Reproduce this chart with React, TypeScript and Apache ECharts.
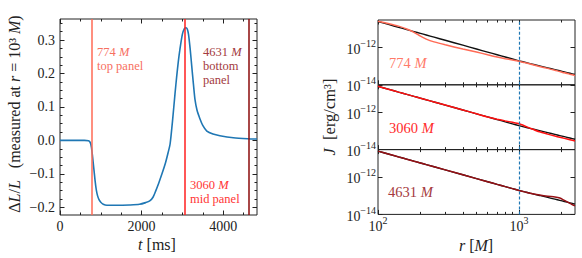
import React, { useEffect, useRef } from 'react';
import * as echarts from 'echarts';

// ---------- Left panel: luminosity change vs time ----------
const T_MS = [0, 300, 600, 700, 740, 770, 800, 830, 860, 890, 920, 960, 1000, 1060, 1150, 1400, 1700, 1950, 2100, 2200, 2280, 2350, 2420, 2500, 2580, 2650, 2700, 2760, 2820, 2860, 2900, 2940, 3000, 3050, 3090, 3120, 3150, 3190, 3230, 3270, 3310, 3360, 3430, 3500, 3600, 3750, 3920, 4250, 4600, 4830];
const DL_L = [0, 0, 0, -0.001, -0.006, -0.02, -0.05, -0.085, -0.12, -0.148, -0.165, -0.178, -0.185, -0.191, -0.194, -0.194, -0.193, -0.191, -0.186, -0.181, -0.17, -0.15, -0.128, -0.1, -0.07, -0.037, -0.01, 0.06, 0.14, 0.19, 0.235, 0.272, 0.317, 0.334, 0.337, 0.333, 0.318, 0.275, 0.222, 0.17, 0.122, 0.09, 0.065, 0.045, 0.028, 0.019, 0.014, 0.008, 0.005, 0.004];
const EVENT_T = [774, 3060, 4631];
const EVENT_COLORS = ['#ff6a55', '#ff1f1f', '#8b0a0a'];

const T_RANGE = [0, 4830];
const DL_RANGE = [-0.223, 0.363];
const T_TICKS = [0, 2000, 4000];
const T_MINOR = [500, 1000, 1500, 2500, 3000, 3500, 4500];
const DL_TICKS = [-0.2, -0.1, 0, 0.1, 0.2, 0.3];
const DL_MINOR = [-0.175, -0.15, -0.125, -0.075, -0.05, -0.025, 0.025, 0.05, 0.075, 0.125, 0.15, 0.175, 0.225, 0.25, 0.275, 0.325, 0.35];

// ---------- Right panels: J(r) ----------
const R_M = [100, 120, 140, 160, 180, 200, 220, 250, 300, 400, 500, 600, 700, 800, 900, 1000, 1100, 1200, 1400, 1600, 1800, 1950, 2100, 2300, 2500];
const J_INITIAL = [2.40e-11, 1.64e-11, 1.18e-11, 8.95e-12, 6.98e-12, 5.60e-12, 4.58e-12, 3.50e-12, 2.39e-12, 1.31e-12, 8.17e-13, 5.57e-13, 4.03e-13, 3.05e-13, 2.38e-13, 1.91e-13, 1.60e-13, 1.36e-13, 1.03e-13, 8.07e-14, 6.50e-14, 5.61e-14, 4.90e-14, 4.15e-14, 3.56e-14];
const J_774 = [2.51e-11, 1.84e-11, 1.36e-11, 9.59e-12, 6.37e-12, 3.96e-12, 2.76e-12, 1.97e-12, 1.37e-12, 8.24e-13, 5.65e-13, 4.04e-13, 3.05e-13, 2.48e-13, 2.12e-13, 1.82e-13, 1.53e-13, 1.30e-13, 9.59e-14, 7.53e-14, 5.93e-14, 5.12e-14, 4.37e-14, 3.70e-14, 3.18e-14];
const J_3060 = [2.40e-11, 1.64e-11, 1.18e-11, 8.95e-12, 6.98e-12, 5.60e-12, 4.58e-12, 3.50e-12, 2.39e-12, 1.31e-12, 8.17e-13, 5.57e-13, 4.22e-13, 3.42e-13, 2.86e-13, 2.40e-13, 1.84e-13, 1.40e-13, 8.95e-14, 6.71e-14, 5.28e-14, 4.56e-14, 3.98e-14, 3.37e-14, 2.90e-14];
const J_4631 = [2.40e-11, 1.64e-11, 1.18e-11, 8.95e-12, 6.98e-12, 5.60e-12, 4.58e-12, 3.50e-12, 2.39e-12, 1.31e-12, 8.17e-13, 5.57e-13, 4.03e-13, 3.05e-13, 2.38e-13, 1.91e-13, 1.60e-13, 1.36e-13, 1.08e-13, 9.27e-14, 8.57e-14, 7.57e-14, 5.62e-14, 3.87e-14, 2.83e-14];
const PANEL_SERIES = [J_774, J_3060, J_4631];
const PANEL_NAMES = ['774', '3060', '4631'];
const PANEL_COLORS = ['#ff6a55', '#ff1010', '#961015'];
const PANEL_TEXT_COLORS = ['#ff7a68', '#ff2a2a', '#a53a40'];
const R_MARK = 1000;

const R_RANGE = [100, 2500];
const J_RANGE = [1e-14, 2.9e-11];
const R_TICKS = [100, 1000];
const R_MINOR = [200, 300, 400, 500, 600, 700, 800, 900, 2000];
const J_TICKS = [1e-14, 1e-12];

// ---------- styling ----------
const FONT = '"Liberation Serif", "Times New Roman", serif';
const INK = '#222';
const lg = Math.log10;

function buildOption() {
  const xAxes: any[] = [];
  const yAxes: any[] = [];

  const tickAxis = (gridIndex: number, position: string, range: number[], values: number[], len: number, label?: any) => ({
    type: 'value',
    gridIndex,
    position,
    min: range[0],
    max: range[1],
    axisLine: { show: false, onZero: false },
    splitLine: { show: false },
    axisTick: { show: true, inside: true, length: len, lineStyle: { color: INK, width: 1 }, customValues: values },
    axisLabel: label
      ? { show: true, customValues: values, color: INK, fontFamily: FONT, fontSize: 14, ...label }
      : { show: false },
  });
  const add = (list: any[], a: any) => { list.push(a); return list.length - 1; };

  const supRich = {
    b: { fontFamily: FONT, fontSize: 14, lineHeight: 18, verticalAlign: 'bottom', color: INK },
    s: { fontFamily: FONT, fontSize: 10, lineHeight: 10, verticalAlign: 'top', color: INK },
  };
  const powFmt = (v: number) => {
    const e = Math.round(v);
    return `{b|10}{s|${e < 0 ? '\u2212' : ''}${Math.abs(e)}}`;
  };
  const decFmt = (v: number) => (v < 0 ? '\u2212' : '') + Math.abs(v).toFixed(1);

  const grids: any[] = [];
  const gridStyle = { show: true, borderColor: INK, borderWidth: 1, backgroundColor: 'transparent', containLabel: false };
  grids.push({ left: 60, top: 19, width: 197, height: 196, ...gridStyle });

  // left grid axes
  const xMain = add(xAxes, tickAxis(0, 'bottom', T_RANGE, T_TICKS, 4.5, { margin: 4, formatter: (v: number) => String(Math.round(v)) }));
  add(xAxes, tickAxis(0, 'bottom', T_RANGE, T_MINOR, 2.5));
  add(xAxes, tickAxis(0, 'top', T_RANGE, T_TICKS, 4.5));
  add(xAxes, tickAxis(0, 'top', T_RANGE, T_MINOR, 2.5));
  const yMain = add(yAxes, tickAxis(0, 'left', DL_RANGE, DL_TICKS, 4.5, { margin: 5, formatter: decFmt }));
  add(yAxes, tickAxis(0, 'left', DL_RANGE, DL_MINOR, 2.5));
  add(yAxes, tickAxis(0, 'right', DL_RANGE, DL_TICKS, 4.5));
  add(yAxes, tickAxis(0, 'right', DL_RANGE, DL_MINOR, 2.5));

  const series: any[] = [
    {
      type: 'line',
      xAxisIndex: xMain,
      yAxisIndex: yMain,
      data: T_MS.map((t, i) => [t, DL_L[i]]),
      showSymbol: false,
      symbol: 'none',
      smooth: 0.25,
      lineStyle: { color: '#1f77b4', width: 1.6 },
      silent: true,
      z: 2,
      markLine: {
        symbol: ['none', 'none'],
        silent: true,
        label: { show: false },
        emphasis: { disabled: true },
        data: EVENT_T.map((t, i) => ({ xAxis: t, lineStyle: { color: EVENT_COLORS[i], width: 1.5, type: 'solid' } })),
      },
    },
  ];

  const lr = R_RANGE.map(lg);
  const lj = J_RANGE.map(lg);
  const rTicks = R_TICKS.map(lg);
  const rMinor = R_MINOR.map(lg);
  const jTicks = J_TICKS.map(lg);
  const panelTop = 20;
  const panelH = 64.8;

  for (let p = 0; p < 3; p++) {
    const gi = grids.length;
    grids.push({ left: 378, top: panelTop + p * panelH, width: 197, height: panelH, ...gridStyle });
    const xi = add(xAxes, tickAxis(gi, 'bottom', lr, rTicks, 4.5, p === 2 ? { margin: 1, formatter: powFmt, rich: supRich } : undefined));
    add(xAxes, tickAxis(gi, 'bottom', lr, rMinor, 2.5));
    add(xAxes, tickAxis(gi, 'top', lr, rTicks, 4.5));
    add(xAxes, tickAxis(gi, 'top', lr, rMinor, 2.5));
    const yi = add(yAxes, tickAxis(gi, 'left', lj, jTicks, 4.5, { margin: 2, formatter: powFmt, rich: supRich }));
    add(yAxes, tickAxis(gi, 'right', lj, jTicks, 4.5));

    series.push({
      type: 'line',
      xAxisIndex: xi,
      yAxisIndex: yi,
      data: R_M.map((r, i) => [lg(r), lg(J_INITIAL[i])]),
      showSymbol: false,
      symbol: 'none',
      smooth: 0.2,
      lineStyle: { color: '#111', width: 1.4 },
      silent: true,
      z: 2,
      markLine: {
        symbol: ['none', 'none'],
        silent: true,
        label: { show: false },
        emphasis: { disabled: true },
        lineStyle: { color: '#1f77b4', width: 1.2, type: [3, 2] },
        data: [{ xAxis: lg(R_MARK), lineStyle: { color: '#1f77b4', width: 1.2, type: [3, 2] } }],
      },
    });
    series.push({
      type: 'line',
      xAxisIndex: xi,
      yAxisIndex: yi,
      data: R_M.map((r, i) => [lg(r), lg(PANEL_SERIES[p][i])]),
      showSymbol: false,
      symbol: 'none',
      smooth: 0.2,
      lineStyle: { color: PANEL_COLORS[p], width: 1.5 },
      silent: true,
      z: 3,
    });
  }

  const richFor = (fill: string, fs: number) => ({
    n: { fontFamily: FONT, fontSize: fs, fill },
    i: { fontFamily: FONT, fontSize: fs, fontStyle: 'italic', fill },
  });
  const txt = (x: number, y: number, text: string, fill: string, opt: any = {}) => {
    const fs = opt.fs || 14;
    return {
      type: 'text',
      x,
      y,
      rotation: opt.rotation || 0,
      silent: true,
      z: 100,
      style: {
        text,
        rich: richFor(fill, fs),
        fill,
        fontFamily: FONT,
        fontSize: fs,
        align: opt.align || 'left',
        verticalAlign: opt.va || 'middle',
      },
    };
  };
  const ann = { fs: 12.5 };

  const graphic: any[] = [
    txt(97, 52, '{n|774 }{i|M}', '#f7705f', ann),
    txt(97, 66, '{n|top panel}', '#f7705f', ann),
    txt(203, 52, '{n|4631 }{i|M}', '#a33a40', ann),
    txt(203, 66, '{n|bottom}', '#a33a40', ann),
    txt(203, 80, '{n|panel}', '#a33a40', ann),
    txt(190, 185, '{n|3060 }{i|M}', '#ff3535', ann),
    txt(190, 199, '{n|mid panel}', '#ff3535', ann),
    txt(389, 62.7, `{n|${PANEL_NAMES[0]} }{i|M}`, PANEL_TEXT_COLORS[0], { fs: 14.5 }),
    txt(389, 128.3, `{n|${PANEL_NAMES[1]} }{i|M}`, PANEL_TEXT_COLORS[1], { fs: 14.5 }),
    txt(388, 192.3, `{n|${PANEL_NAMES[2]} }{i|M}`, PANEL_TEXT_COLORS[2], { fs: 14.5 }),
    txt(157, 244, '{i|t}{n| [ms]}', INK, { align: 'center', fs: 16 }),
    txt(476, 245, '{i|r}{n| [}{i|M}{n|]}', INK, { align: 'center', fs: 16 }),
    txt(14, 114, '{n|\u0394}{i|L}{n|/}{i|L}{n|   (measured at }{i|r}{n| = 10\u00b3 }{i|M}{n|)}', INK, { align: 'center', rotation: Math.PI / 2, fs: 16 }),
    txt(329, 117, '{i|J}{n|  [erg/cm\u00b3]}', INK, { align: 'center', rotation: Math.PI / 2, fs: 16.5 }),
  ];

  return {
    animation: false,
    backgroundColor: '#fff',
    grid: grids,
    xAxis: xAxes,
    yAxis: yAxes,
    series,
    graphic,
  };
}

export default function App() {
  const ref = useRef<HTMLDivElement>(null);
  useEffect(() => {
    document.body.style.margin = '0';
    const chart = echarts.init(ref.current!, null, { renderer: 'svg' });
    chart.setOption(buildOption() as any);
    return () => chart.dispose();
  }, []);
  return <div ref={ref} style={{ width: 582, height: 258 }} />;
}
